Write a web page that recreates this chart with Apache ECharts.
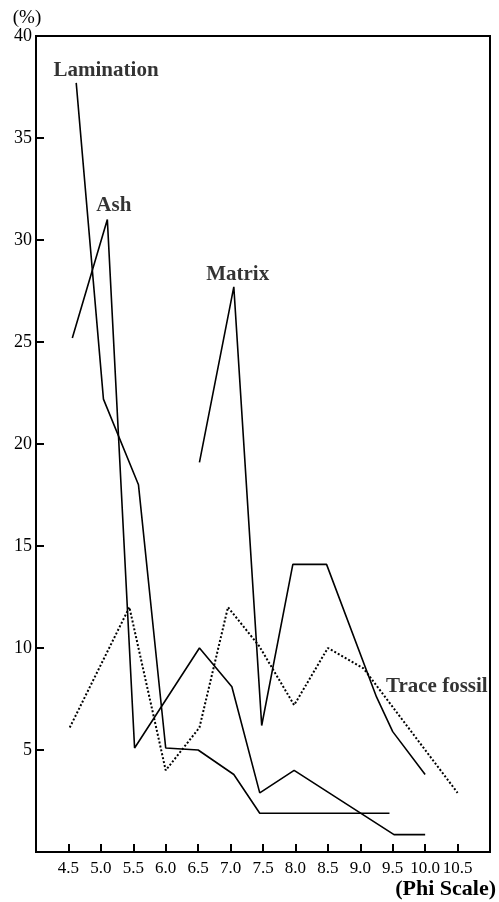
<!DOCTYPE html>
<html>
<head>
<meta charset="utf-8">
<script src="https://cdn.jsdelivr.net/npm/echarts@6/dist/echarts.min.js"></script>
<style>
  html, body { margin: 0; padding: 0; background: #fff; }
  #main { width: 499px; height: 902px; }
</style>
</head>
<body>
<div id="main"></div>
<script>
// values (phi scale vs %)
var laminationX = [4.62, 5.04, 5.58, 6.0, 6.5, 7.05, 7.45, 9.45];
var laminationY = [37.7, 22.2, 18.0, 5.1, 5.0, 3.8, 1.9, 1.9];

var ashX = [4.56, 5.1, 5.52, 6.52, 7.02, 7.45, 7.98, 9.52, 10.0];
var ashY = [25.2, 31.0, 5.1, 10.0, 8.1, 2.9, 4.0, 0.85, 0.85];

var matrixX = [6.52, 7.05, 7.48, 7.96, 8.48, 9.25, 9.5, 10.0];
var matrixY = [19.1, 27.7, 6.2, 14.1, 14.1, 7.6, 5.9, 3.8];

var fossilX = [4.52, 5.44, 6.0, 6.52, 6.96, 7.44, 7.98, 8.5, 9.05, 10.5];
var fossilY = [6.1, 12.0, 4.0, 6.1, 12.0, 10.1, 7.2, 10.0, 9.0, 2.9];

var xTicks = [4.5, 5.0, 5.5, 6.0, 6.5, 7.0, 7.5, 8.0, 8.5, 9.0, 9.5, 10.0, 10.5];
var yTicks = [5, 10, 15, 20, 25, 30, 35];
var yLabels = [5, 10, 15, 20, 25, 30, 35, 40];

var noteNames = ['Lamination', 'Ash', 'Matrix', 'Trace fossil'];
var noteX = [5.08, 5.2, 7.11, 10.18];
var noteY = [38.3, 31.7, 28.3, 8.1];

var serif = '"Liberation Serif", "DejaVu Serif", serif';

function pairs(xs, ys) {
  var out = [];
  for (var i = 0; i < xs.length; i++) out.push([xs[i], ys[i]]);
  return out;
}

function lineSeries(name, xs, ys, dashed) {
  return {
    name: name,
    type: 'line',
    data: pairs(xs, ys),
    symbol: 'none',
    animation: false,
    lineStyle: {
      color: '#000',
      width: dashed ? 2 : 1.6,
      type: dashed ? [2, 2] : 'solid'
    }
  };
}

var notes = [];
for (var i = 0; i < noteNames.length; i++) {
  notes.push({ value: [noteX[i], noteY[i]], name: noteNames[i] });
}

var option = {
  backgroundColor: '#ffffff',
  animation: false,
  grid: {
    left: 36,
    right: 9,
    top: 36,
    bottom: 50,
    outerBoundsMode: 'none',
    containLabel: false,
    show: true,
    borderColor: '#000',
    borderWidth: 2
  },
  // x axis title sits under the right end of the axis
  graphic: [{
    type: 'text',
    right: 3,
    bottom: 2,
    style: {
      text: '(Phi Scale)',
      fill: '#000',
      font: 'bold 22px ' + serif
    }
  }],
  xAxis: {
    type: 'value',
    min: 4,
    max: 11,
    interval: 0.5,
    splitLine: { show: false },
    axisLine: { lineStyle: { color: '#000', width: 2 } },
    axisTick: {
      inside: true,
      length: 8,
      customValues: xTicks,
      lineStyle: { color: '#000', width: 2 }
    },
    axisLabel: {
      customValues: xTicks,
      margin: 8,
      color: '#000',
      fontFamily: serif,
      fontSize: 17,
      formatter: function (v) { return v.toFixed(1); }
    }
  },
  yAxis: {
    type: 'value',
    min: 0,
    max: 40,
    interval: 5,
    splitLine: { show: false },
    axisLine: { lineStyle: { color: '#000', width: 2 } },
    axisTick: {
      inside: true,
      length: 8,
      customValues: yTicks,
      lineStyle: { color: '#000', width: 2 }
    },
    axisLabel: {
      customValues: yLabels,
      margin: 4,
      color: '#000',
      fontFamily: serif,
      fontSize: 18
    },
    name: '(%)',
    nameLocation: 'end',
    nameGap: 7,
    nameTextStyle: {
      color: '#000',
      fontFamily: serif,
      fontSize: 19,
      padding: [0, 18, 0, 0]
    }
  },
  series: [
    lineSeries('Lamination', laminationX, laminationY, false),
    lineSeries('Ash', ashX, ashY, false),
    lineSeries('Matrix', matrixX, matrixY, false),
    lineSeries('Trace fossil', fossilX, fossilY, true),
    {
      name: 'notes',
      type: 'scatter',
      data: notes,
      symbolSize: 0,
      silent: true,
      animation: false,
      label: {
        show: true,
        position: 'inside',
        formatter: '{b}',
        color: '#000',
        fontFamily: serif,
        fontSize: 21,
        fontWeight: 'bold'
      }
    }
  ]
};

var chart = echarts.init(document.getElementById('main'), null, { renderer: 'canvas' });
chart.setOption(option);
</script>
</body>
</html>
